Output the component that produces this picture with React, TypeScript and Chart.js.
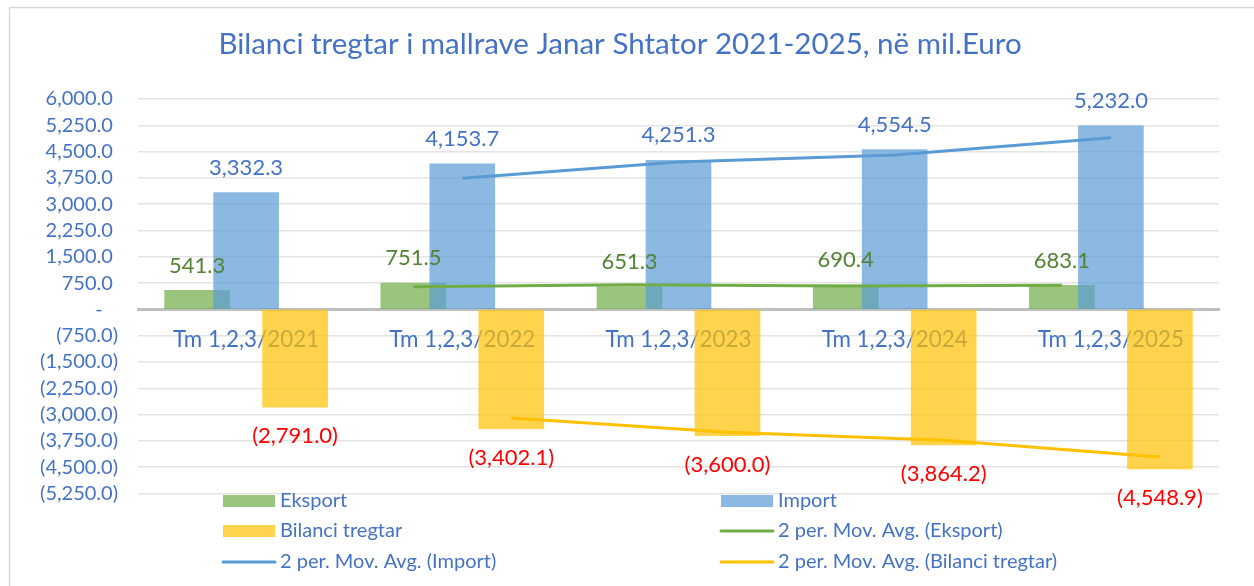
import { useEffect, useRef } from "react";
import { Chart, registerables } from "chart.js";

Chart.register(...registerables);

const categories = ["Tm 1,2,3/2021", "Tm 1,2,3/2022", "Tm 1,2,3/2023", "Tm 1,2,3/2024", "Tm 1,2,3/2025"];
const eksport = [541.3, 751.5, 651.3, 690.4, 683.1];
const importValues = [3332.3, 4153.7, 4251.3, 4554.5, 5232.0];
const bilanci = [-2791.0, -3402.1, -3600.0, -3864.2, -4548.9];
// 2-period moving averages (first period has no value)
const maEksport = [null, 646.4, 701.4, 670.85, 686.75];
const maImport = [null, 3743.0, 4202.5, 4402.9, 4893.25];
const maBilanci = [null, -3096.55, -3501.05, -3732.1, -4206.55];

const Y_MIN = -5250;
const Y_MAX = 6000;
const Y_STEP = 750;

const TITLE = "Bilanci tregtar i mallrave Janar Shtator 2021-2025, në mil.Euro";
const legendLabels = [
  "Eksport",
  "Import",
  "Bilanci tregtar",
  "2 per. Mov. Avg. (Eksport)",
  "2 per. Mov. Avg. (Import)",
  "2 per. Mov. Avg. (Bilanci tregtar)",
];

const FONT = "Lato, 'Open Sans', sans-serif";
const TEXT_BLUE = "#4472C4";
const GREEN_FILL = "rgba(112,173,71,0.7)";
const BLUE_FILL = "rgba(91,155,213,0.7)";
const YELLOW_FILL = "rgba(255,192,0,0.7)";
const GREEN_LINE = "#70AD47";
const BLUE_LINE = "#5B9BD5";
const YELLOW_LINE = "#FFC000";
const LABEL_COLORS = ["#548235", "#4472C4", "#FF0000"];

// series spacing inside a category (fraction of a category) and bar thickness
const SERIES_GAP = 0.2266;
const BAR_THICKNESS = 65;

const fmt = (v: number) =>
  Math.abs(v).toLocaleString("en-US", { minimumFractionDigits: 1, maximumFractionDigits: 1 });
const fmtLabel = (v: number) => (v < 0 ? `(${fmt(v)})` : fmt(v));
const fmtTick = (v: number) => {
  if (v === 0) return "-\u00a0\u00a0\u00a0";
  if (v < 0) return `(${fmt(v)})`;
  return `${fmt(v)}\u00a0`;
};

const seriesOffset = (k: number) => (k - 1) * SERIES_GAP;
const toPoints = (arr: (number | null)[], k: number) =>
  arr.map((y, i) => ({ x: i + seriesOffset(k), y }));

const dataLabelPlugin = {
  id: "dataLabels",
  afterDatasetsDraw(chart: any) {
    const ctx = chart.ctx;
    chart.data.datasets.forEach((ds: any, di: number) => {
      if (ds.type !== "bar") return;
      const meta = chart.getDatasetMeta(di);
      meta.data.forEach((el: any, i: number) => {
        const v = (ds.data[i] as any).y as number;
        ctx.save();
        ctx.font = `22px ${FONT}`;
        ctx.fillStyle = LABEL_COLORS[di];
        ctx.textAlign = "center";
        ctx.textBaseline = "middle";
        ctx.fillText(fmtLabel(v), el.x, v >= 0 ? el.y - 25 : el.y + 29);
        ctx.restore();
      });
    });
  },
};

const decorPlugin = {
  id: "decor",
  beforeDraw(chart: any) {
    const ctx = chart.ctx;
    ctx.save();
    ctx.fillStyle = "#ffffff";
    ctx.fillRect(0, 0, chart.width, chart.height);
    ctx.strokeStyle = "#D9D9D9";
    ctx.lineWidth = 1.5;
    ctx.strokeRect(9.5, 7.5, chart.width + 20, chart.height + 20);
    ctx.restore();
  },
  afterDraw(chart: any) {
    const ctx = chart.ctx;
    ctx.save();
    ctx.font = `29.5px ${FONT}`;
    ctx.fillStyle = TEXT_BLUE;
    ctx.textAlign = "center";
    ctx.textBaseline = "middle";
    ctx.fillText(TITLE, 620, 44);

    const colX = [223, 721];
    const rowY = [501, 531, 562];
    const swatches = [
      { kind: "bar", color: GREEN_FILL },
      { kind: "bar", color: BLUE_FILL },
      { kind: "bar", color: YELLOW_FILL },
      { kind: "line", color: GREEN_LINE },
      { kind: "line", color: BLUE_LINE },
      { kind: "line", color: YELLOW_LINE },
    ];
    ctx.font = `20px ${FONT}`;
    ctx.textAlign = "left";
    legendLabels.forEach((label, i) => {
      const x = colX[i % 2];
      const y = rowY[Math.floor(i / 2)];
      const s = swatches[i];
      if (s.kind === "bar") {
        ctx.fillStyle = s.color;
        ctx.fillRect(x, y - 6, 52, 12);
      } else {
        ctx.strokeStyle = s.color;
        ctx.lineWidth = 3;
        ctx.lineCap = "round";
        ctx.beginPath();
        ctx.moveTo(x, y);
        ctx.lineTo(x + 52, y);
        ctx.stroke();
      }
      ctx.fillStyle = TEXT_BLUE;
      ctx.fillText(label, x + 57, y);
    });
    ctx.restore();
  },
};

const barDataset = (label: string, values: number[], k: number, color: string, order: number) => ({
  type: "bar",
  label,
  data: toPoints(values, k),
  backgroundColor: color,
  borderWidth: 0,
  order,
  xAxisID: "xl",
  grouped: false,
  barThickness: BAR_THICKNESS,
});

const lineDataset = (label: string, values: (number | null)[], k: number, color: string) => ({
  type: "line",
  label,
  data: toPoints(values, k),
  borderColor: color,
  backgroundColor: color,
  borderWidth: 3,
  pointRadius: 0,
  order: 0,
  xAxisID: "xl",
  spanGaps: false,
});

export default function App() {
  const ref = useRef<HTMLCanvasElement | null>(null);

  useEffect(() => {
    if (!ref.current) return;
    const chart = new Chart(ref.current, {
      type: "bar",
      data: {
        labels: categories,
        datasets: [
          barDataset("Eksport", eksport, 0, GREEN_FILL, 5),
          barDataset("Import", importValues, 1, BLUE_FILL, 4),
          barDataset("Bilanci tregtar", bilanci, 2, YELLOW_FILL, 3),
          lineDataset("2 per. Mov. Avg. (Eksport)", maEksport, 0, GREEN_LINE),
          lineDataset("2 per. Mov. Avg. (Import)", maImport, 1, BLUE_LINE),
          lineDataset("2 per. Mov. Avg. (Bilanci tregtar)", maBilanci, 2, YELLOW_LINE),
        ] as any,
      },
      options: {
        responsive: false,
        animation: false,
        layout: { padding: { left: 0, top: 99, right: 35, bottom: 92.5 } },
        plugins: {
          legend: { display: false },
          title: { display: false },
          tooltip: { enabled: false },
        },
        scales: {
          x: {
            type: "category",
            labels: categories,
            position: { y: 0 } as any,
            offset: true,
            z: 1,
            grid: { display: false, drawTicks: false },
            border: { display: true, color: "#BFBFBF", width: 3 },
            ticks: {
              autoSkip: false,
              maxRotation: 0,
              padding: 17,
              color: TEXT_BLUE,
              font: { family: FONT, size: 22.4 },
            },
          },
          xl: {
            type: "linear",
            display: false,
            offset: false,
            min: -0.5,
            max: categories.length - 0.5,
          },
          y: {
            type: "linear",
            min: Y_MIN,
            max: Y_MAX,
            afterFit: (s: any) => {
              s.width = 138;
            },
            border: { display: false },
            grid: { color: "#E4E4E4", lineWidth: 1.5, drawTicks: false },
            ticks: {
              stepSize: Y_STEP,
              autoSkip: false,
              padding: 20,
              color: TEXT_BLUE,
              font: { family: FONT, size: 20 },
              callback: (v: any) => fmtTick(Number(v)),
            },
          },
        },
      } as any,
      plugins: [decorPlugin, dataLabelPlugin],
    });
    return () => chart.destroy();
  }, []);

  return (
    <canvas
      ref={ref}
      width={1254}
      height={586}
      style={{ position: "fixed", left: 0, top: 0, display: "block", width: 1254, height: 586 }}
    />
  );
}
